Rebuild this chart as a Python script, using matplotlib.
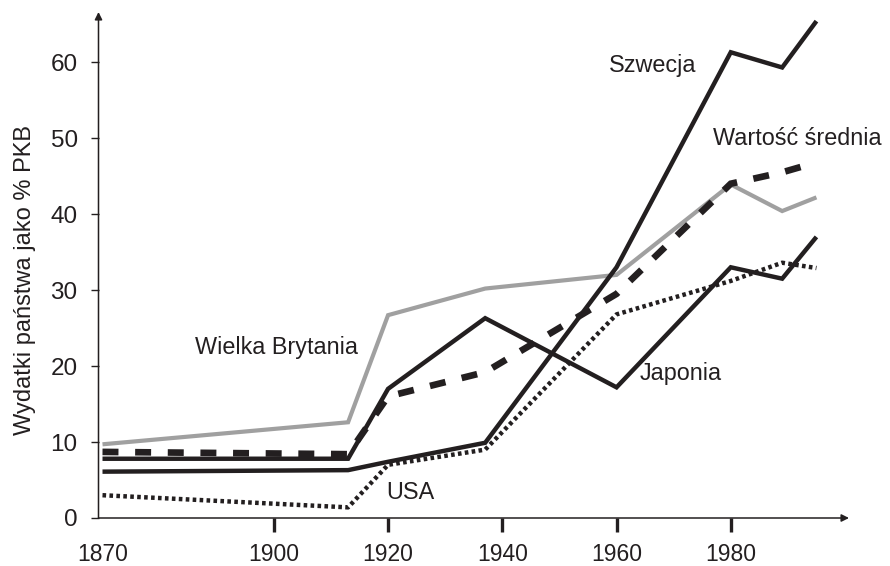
import matplotlib.pyplot as plt

# lata pomiarów
lata = [1870, 1913, 1920, 1937, 1960, 1980, 1989, 1995]

# wydatki państwa jako % PKB
szwecja = [6.1, 6.3, 7.4, 9.9, 33.0, 61.3, 59.3, 65.4]
japonia = [7.8, 7.8, 17.0, 26.3, 17.2, 33.0, 31.5, 37.0]
usa = [3.0, 1.4, 7.0, 9.0, 26.8, 31.2, 33.6, 32.9]
wielka_brytania = [9.7, 12.6, 26.7, 30.2, 32.0, 43.9, 40.4, 42.2]
srednia = [8.7, 8.4, 16.0, 19.2, 29.5, 44.0, 45.5, 46.8]

x_ticks = [1870, 1900, 1920, 1940, 1960, 1980]
y_ticks = [0, 10, 20, 30, 40, 50, 60]

black = '#231f20'
grey = '#a0a0a0'

plt.rcParams['font.family'] = ['Liberation Sans', 'DejaVu Sans']
plt.rcParams['lines.scale_dashes'] = False

fig = plt.figure(figsize=(8.9, 5.66), dpi=100)
ax = fig.add_axes([98.5 / 890, 48 / 566, (849 - 98.5) / 890, (518 - 12) / 566])

ax.plot(lata, wielka_brytania, color=grey, lw=3.0, solid_joinstyle='miter', solid_capstyle='butt')
ax.plot(lata, szwecja, color=black, lw=3.2, solid_joinstyle='miter', solid_capstyle='butt')
ax.plot(lata, japonia, color=black, lw=3.2, solid_joinstyle='miter', solid_capstyle='butt')
ax.plot(lata, usa, color=black, lw=3.2, dashes=(2.6, 2.4), dash_capstyle='butt')
ax.plot(lata, srednia, color=black, lw=4.8, dashes=(11.5, 12), dash_capstyle='butt',
        dash_joinstyle='miter')

ax.set_xlim(1869.3, 2000.7)
ax.set_ylim(0, 66.6)

# osie ze strzałkami
for s in ax.spines.values():
    s.set_visible(False)
arrow = dict(arrowstyle='-|>', lw=1.1, color=black, mutation_scale=11, shrinkA=0, shrinkB=0)
ax.annotate('', xy=(1, 0), xytext=(0, 0), xycoords='axes fraction', arrowprops=arrow,
            annotation_clip=False)
ax.annotate('', xy=(0, 1), xytext=(0, 0), xycoords='axes fraction', arrowprops=arrow,
            annotation_clip=False)

ax.set_xticks(x_ticks)
ax.set_xticklabels([str(t) for t in x_ticks], fontsize=16.5, color=black)
ax.tick_params(axis='x', direction='out', length=10, width=2.4, color=black, pad=8)
ax.xaxis.get_major_ticks()[0].tick1line.set_visible(False)

ax.set_yticks(y_ticks)
ax.set_yticklabels([str(t) for t in y_ticks], fontsize=17.5, color=black)
ax.tick_params(axis='y', direction='out', length=6, width=1, color=black, pad=9)

ax.set_ylabel('Wydatki państwa jako % PKB', fontsize=17, color=black)
ax.yaxis.set_label_coords(-0.083, 0.47)

# podpisy serii
lab = dict(fontsize=16.8, color=black, ha='center', va='center')
ax.text(1966.3, 59.6, 'Szwecja', **lab)
ax.text(1991.6, 49.9, 'Wartość średnia', **lab)
ax.text(1900.5, 22.4, 'Wielka Brytania', **lab)
ax.text(1971.2, 19.0, 'Japonia', **lab)
ax.text(1923.9, 3.4, 'USA', **lab)

fig.savefig('out.png', dpi=100)
